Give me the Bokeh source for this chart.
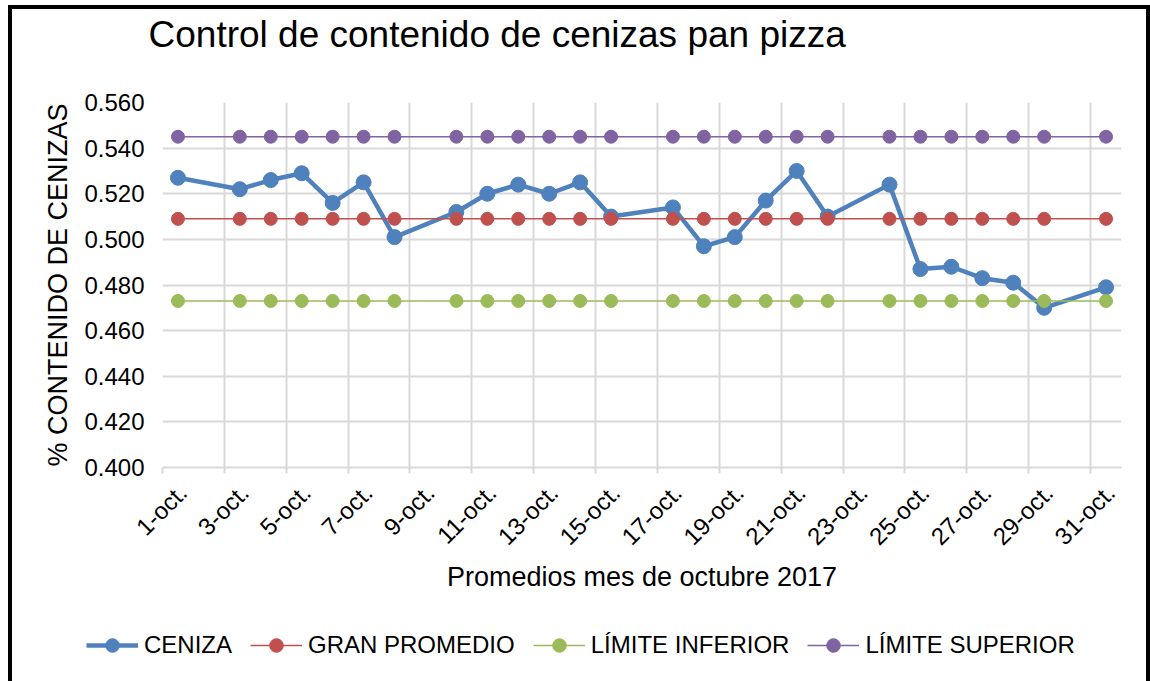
import math
from bokeh.plotting import figure
from bokeh.layouts import column
from bokeh.models import (Range1d, FixedTicker, Legend, LegendItem, Title,
                          NumeralTickFormatter, LinearAxis)
from bokeh.embed import file_html
from bokeh.resources import INLINE

# ---------------- data ----------------
days = [1, 3, 4, 5, 6, 7, 8, 10, 11, 12, 13, 14, 15, 17, 18, 19, 20, 21, 22,
        24, 25, 26, 27, 28, 29, 31]
ceniza = [0.527, 0.522, 0.526, 0.529, 0.516, 0.525, 0.501, 0.512, 0.520, 0.524,
          0.520, 0.525, 0.510, 0.514, 0.497, 0.501, 0.517, 0.530, 0.510, 0.524,
          0.487, 0.488, 0.483, 0.481, 0.470, 0.479]
gran_promedio = [0.509, 0.509, 0.509, 0.509, 0.509, 0.509, 0.509, 0.509, 0.509,
                 0.509, 0.509, 0.509, 0.509, 0.509, 0.509, 0.509, 0.509, 0.509,
                 0.509, 0.509, 0.509, 0.509, 0.509, 0.509, 0.509, 0.509]
limite_inferior = [0.473, 0.473, 0.473, 0.473, 0.473, 0.473, 0.473, 0.473, 0.473,
                   0.473, 0.473, 0.473, 0.473, 0.473, 0.473, 0.473, 0.473, 0.473,
                   0.473, 0.473, 0.473, 0.473, 0.473, 0.473, 0.473, 0.473]
limite_superior = [0.545, 0.545, 0.545, 0.545, 0.545, 0.545, 0.545, 0.545, 0.545,
                   0.545, 0.545, 0.545, 0.545, 0.545, 0.545, 0.545, 0.545, 0.545,
                   0.545, 0.545, 0.545, 0.545, 0.545, 0.545, 0.545, 0.545]
tick_days = [1, 3, 5, 7, 9, 11, 13, 15, 17, 19, 21, 23, 25, 27, 29, 31]
tick_labels = ["1-oct.", "3-oct.", "5-oct.", "7-oct.", "9-oct.", "11-oct.",
               "13-oct.", "15-oct.", "17-oct.", "19-oct.", "21-oct.", "23-oct.",
               "25-oct.", "27-oct.", "29-oct.", "31-oct."]
y_ticks = [0.40, 0.42, 0.44, 0.46, 0.48, 0.50, 0.52, 0.54, 0.56]
series_names = ["CENIZA", "GRAN PROMEDIO", "LÍMITE INFERIOR", "LÍMITE SUPERIOR"]
title_text = "Control de contenido de cenizas pan pizza"
x_title = "Promedios mes de octubre 2017"
y_title = "% CONTENIDO DE CENIZAS"

FONT = "Liberation Sans"
GRID = "#d9d9d9"
LABEL_SHIFT = 0.65   # Excel draws the slanted labels a bit right of the tick
colors = ["#4F81BD", "#C0504D", "#9BBB59", "#8064A2"]
widths = [4.5, 1.5, 1.5, 1.5]
sizes = [15, 13, 13, 13]
values = [ceniza, gran_promedio, limite_inferior, limite_superior]

p = figure(width=1134, height=600, output_backend="svg", toolbar_location=None,
           x_range=Range1d(0.5, 31.5), y_range=Range1d(0.40, 0.56),
           min_border_left=150, min_border_right=25, min_border_top=93,
           min_border_bottom=142)
p.outline_line_color = None
p.background_fill_color = "white"
p.border_fill_color = "white"

# title: spacer first (nearest the frame), then the real title above it
p.add_layout(Title(text=" ", text_font_size="1px", standoff=45), "above")
p.add_layout(Title(text=title_text, text_font=FONT, text_font_size="37px",
                   text_font_style="normal", text_color="black", align="left",
                   offset=-14, standoff=0), "above")

# x axis (tick marks only)
tick_pos = [d - 0.5 for d in tick_days]
p.xaxis.ticker = FixedTicker(ticks=tick_pos)
p.xaxis.minor_tick_line_color = None
p.xaxis.major_tick_in = 0
p.xaxis.major_tick_out = 6
p.xaxis.major_tick_line_color = GRID
p.xaxis.major_tick_line_width = 2
p.xaxis.axis_line_color = GRID
p.xaxis.axis_line_width = 2
p.xaxis.major_label_text_font_size = "1px"
p.xaxis.major_label_text_color = None
p.xaxis.major_label_standoff = 0

# x axis labels (slanted)
lab_pos = [t + LABEL_SHIFT for t in tick_pos]
xlab = LinearAxis(ticker=FixedTicker(ticks=lab_pos),
                  major_label_overrides={t: lab for t, lab in zip(lab_pos, tick_labels)},
                  major_label_orientation=math.pi / 4,
                  axis_line_color=None, major_tick_line_color=None,
                  minor_tick_line_color=None, major_tick_in=0, major_tick_out=0,
                  major_label_text_font=FONT, major_label_text_font_size="24px",
                  major_label_text_color="black", major_label_standoff=15,
                  axis_label=x_title, axis_label_text_font=FONT,
                  axis_label_text_font_size="27px",
                  axis_label_text_font_style="normal",
                  axis_label_text_color="black", axis_label_standoff=0)
p.add_layout(xlab, "below")

# y axis
p.yaxis.ticker = FixedTicker(ticks=y_ticks)
p.yaxis.formatter = NumeralTickFormatter(format="0.000")
p.yaxis.axis_line_color = None
p.yaxis.major_tick_in = 0
p.yaxis.major_tick_out = 0
p.yaxis.minor_tick_line_color = None
p.yaxis.major_label_text_font = FONT
p.yaxis.major_label_text_font_size = "24px"
p.yaxis.major_label_text_color = "black"
p.yaxis.major_label_standoff = 18
p.yaxis.axis_label = y_title
p.yaxis.axis_label_text_font = FONT
p.yaxis.axis_label_text_font_size = "27px"
p.yaxis.axis_label_text_font_style = "normal"
p.yaxis.axis_label_text_color = "black"
p.yaxis.axis_label_standoff = 8

p.xgrid.ticker = FixedTicker(ticks=tick_pos)
p.grid.grid_line_color = GRID
p.grid.grid_line_width = 2

# series
for vals, c, w, s in zip(values, colors, widths, sizes):
    p.line(days, vals, line_color=c, line_width=w)
    p.scatter(days, vals, size=s, fill_color=c, line_color=c)

# legend strip below the chart: same series, drawn outside its visible range,
# so that only the legend shows
pl = figure(width=1134, height=72, output_backend="svg", toolbar_location=None,
            x_range=Range1d(0, 1), y_range=Range1d(10, 11),
            x_axis_type=None, y_axis_type=None,
            min_border_left=0, min_border_right=0, min_border_top=0,
            min_border_bottom=0)
pl.frame_align = False
pl.outline_line_color = None
pl.grid.visible = False
pl.background_fill_color = "white"
pl.border_fill_color = "white"
items = []
for name, vals, c, w, s in zip(series_names, values, colors, widths, sizes):
    rl = pl.line(days, vals, line_color=c, line_width=w)
    rs = pl.scatter(days, vals, size=s, fill_color=c, line_color=c)
    items.append(LegendItem(label=name, renderers=[rl, rs]))
legend = Legend(items=items, orientation="horizontal", location=(74, 19),
                label_text_font=FONT, label_text_font_size="24px",
                label_text_color="black", glyph_width=52, glyph_height=34,
                label_standoff=6, spacing=18, padding=0, margin=0,
                border_line_color=None, background_fill_alpha=0)
pl.add_layout(legend)

layout = column(p, pl, spacing=0)
layout.margin = (5, 0, 0, 8)
layout.styles = {"border-top": "4px solid black", "border-left": "4px solid black",
                 "border-right": "4px solid black"}

open("out.html", "w").write(file_html(layout, INLINE))
